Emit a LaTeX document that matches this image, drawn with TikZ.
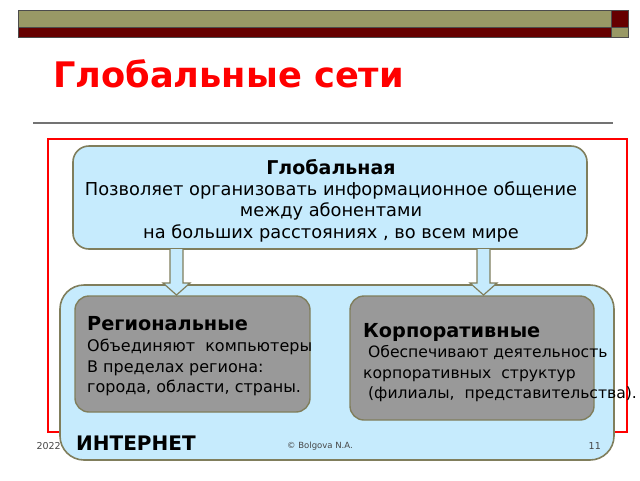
\documentclass[tikz,border=0pt]{standalone}
\usepackage{fontspec}
\setmainfont{DejaVu Sans}
\usetikzlibrary{calc}
\definecolor{olivebar}{RGB}{153,153,102}
\definecolor{darkredbar}{RGB}{102,0,0}
\definecolor{lightblue}{RGB}{198,235,253}
\definecolor{boxgray}{RGB}{153,153,153}
\definecolor{boxedge}{RGB}{128,126,92}
\definecolor{titlered}{RGB}{255,0,0}
\definecolor{footgray}{RGB}{70,70,70}
\tikzset{
  barpart/.style={draw=black!70, line width=0.8pt},
  bluebox/.style={draw=boxedge, line width=1.6pt, fill=lightblue, rounded corners=16pt},
  graybox/.style={draw=boxedge, line width=1.4pt, fill=boxgray, rounded corners=14pt},
  blockarrow/.style={draw=boxedge, line width=1.2pt, fill=lightblue, line join=miter},
  foot/.style={font=\fontsize{9.5}{11}\selectfont, text=footgray, inner sep=0pt},
}
\begin{document}
\begin{tikzpicture}[x=1pt,y=-1pt]
\useasboundingbox (0,0) rectangle (640,480);
% top bar
\path[barpart, fill=olivebar] (18,10) rectangle (611,27);
\path[barpart, fill=darkredbar] (18,27) rectangle (611,37);
\path[barpart, fill=darkredbar] (611,10) rectangle (628,27);
\path[barpart, fill=olivebar] (611,27) rectangle (628,37);
% title
\node[anchor=base west, inner sep=0pt, text=titlered, font=\fontsize{35.2}{40}\selectfont\bfseries] (title) at (53,87) {Глобальные сети};
\draw[line width=1.6pt, draw=black!55] (33,123) -- (613,123);
% red frame
\draw[line width=1.3pt, draw=titlered] (48,139) rectangle (627,432);
% big bottom box
\draw[bluebox, rounded corners=24pt] (60,285) rectangle (614,460);
% top box
\node[bluebox, minimum width=514pt, minimum height=103pt, inner sep=0pt] (glob) at (330,197.5) {};
\node[align=center, inner sep=0pt, font=\fontsize{17.8}{21.4}\selectfont] (globtxt) at (331,200.5)
  {{\fontsize{19}{21.4}\selectfont\bfseries Глобальная}\\Позволяет организовать информационное общение\\между абонентами\\на больших расстояниях , во всем мире};
% arrows
\coordinate (la) at (176.5,249);
\coordinate (ra) at (483.5,249);
\foreach \c in {la,ra}{
  \draw[blockarrow] ($(\c)+(-6.5,0)$) -- ($(\c)+(-6.5,34)$) -- ($(\c)+(-13.5,34)$) -- ($(\c)+(0,46)$)
     -- ($(\c)+(13.5,34)$) -- ($(\c)+(6.5,34)$) -- ($(\c)+(6.5,0)$);
}
% gray boxes
\draw[graybox] (75,296) rectangle (310,412);
\draw[graybox] (350,296) rectangle (594,420);
\node[anchor=west, align=left, inner sep=0pt, font=\fontsize{16}{20.7}\selectfont] (reg) at (87,356.5)
  {{\fontsize{19.3}{20.7}\selectfont\bfseries Региональные}\\Объединяют\ \ компьютеры\\В пределах региона:\\города, области, страны.};
\node[anchor=west, align=left, inner sep=0pt, font=\fontsize{15.6}{20.6}\selectfont] (corp) at (363,362.5)
  {{\fontsize{19.3}{20.6}\selectfont\bfseries Корпоративные}\\\ Обеспечивают деятельность\\корпоративных\ \ структур\\\ (филиалы,\ \ представительства).};
% footer
\node[foot, anchor=east] (year) at (61,446) {2022};
\node[anchor=west, inner sep=0pt, font=\fontsize{20}{24}\selectfont\bfseries] (inet) at (76,443) {ИНТЕРНЕТ};
\node[foot, font=\fontsize{8.5}{10}\selectfont] (copy) at (320,446) {© Bolgova N.A.};
\node[foot, anchor=east] (page) at (601,446) {11};
\end{tikzpicture}
\end{document}
